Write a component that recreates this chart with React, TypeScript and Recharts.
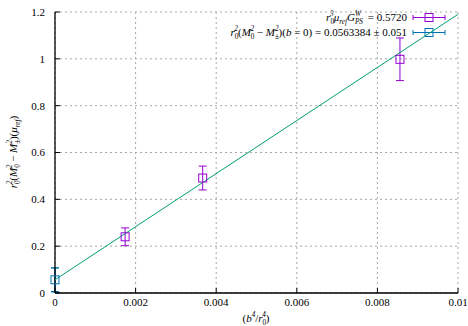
import React from 'react';
import { ComposedChart, Scatter, XAxis, YAxis, CartesianGrid, ErrorBar, Customized } from 'recharts';

const X_TICKS = [0, 0.002, 0.004, 0.006, 0.008, 0.01];
const Y_TICKS = [0, 0.2, 0.4, 0.6, 0.8, 1, 1.2];

// finite lattice spacing points (purple)
const latticeX = [0.00174, 0.003665, 0.00856];
const latticeY = [0.24, 0.491, 0.998];
const latticeErr = [0.038, 0.051, 0.091];

// continuum value at b = 0 (blue)
const contX = [0];
const contY = [0.0563384];
const contErr = [0.051];

// linear fit, end points
const fitX = [0, 0.01];
const fitY = [0.0563384, 1.19];

const PURPLE = '#9400d3';
const BLUE = '#0072b2';
const GREEN = '#009e73';
const FONT = '"Liberation Serif", "Times New Roman", serif';
const SIZE = 11;

const lattice = latticeX.map((x, i) => ({ x, y: latticeY[i], err: latticeErr[i] }));
const cont = contX.map((x, i) => ({ x, y: contY[i], err: contErr[i] }));
const fit = fitX.map((x, i) => ({ x, y: fitY[i] }));

type Piece = { t: string; it?: boolean; sub?: string; subIt?: boolean; sup?: string };
type Line = { pieces: Piece[]; x: number; y: number };

function renderLine(line: Line, li: number, size: number) {
  const small = size * 0.66;
  const out: React.ReactNode[] = [];
  let cur = 0;
  let padX = 0;
  line.pieces.forEach((p, i) => {
    const first = i === 0;
    out.push(
      <tspan
        key={`${li}-${i}m`}
        x={first ? line.x : undefined}
        y={first ? line.y : undefined}
        dx={first ? undefined : padX}
        dy={first ? undefined : -cur}
        fontStyle={p.it ? 'italic' : 'normal'}
        fontSize={size}
      >
        {p.t}
      </tspan>
    );
    cur = 0;
    padX = 0;
    const subW = p.sub ? p.sub.length * small * 0.55 : 0;
    if (p.sub) {
      const d = size * 0.3;
      out.push(
        <tspan key={`${li}-${i}b`} dy={d - cur} fontSize={small} fontStyle={p.subIt ? 'italic' : 'normal'}>
          {p.sub}
        </tspan>
      );
      cur = d;
    }
    if (p.sup) {
      const d = -size * 0.42;
      const supW = p.sup.length * small * 0.55;
      out.push(
        <tspan key={`${li}-${i}p`} dx={-subW} dy={d - cur} fontSize={small} fontStyle="italic">
          {p.sup}
        </tspan>
      );
      cur = d;
      padX = Math.max(0, subW - supW);
    }
  });
  return out;
}

function MathText({ lines, anchor = 'start', size = SIZE, transform }: {
  lines: Line[]; anchor?: string; size?: number; transform?: string;
}) {
  return (
    <text textAnchor={anchor} fontFamily={FONT} fill="#000" transform={transform}>
      {lines.map((l, li) => renderLine(l, li, size))}
    </text>
  );
}

const row1: Piece[] = [
  { t: 'r', it: true, sub: '0', sup: '3' },
  { t: 'μ', it: true, sub: 'ref', subIt: true },
  { t: 'G', it: true, sub: 'PS', subIt: true, sup: 'W' },
  { t: ' = 0.5720' },
];
const row2: Piece[] = [
  { t: 'r', it: true, sub: '0', sup: '2' },
  { t: '(' },
  { t: 'M', it: true, sub: '0', sup: '2' },
  { t: ' − ' },
  { t: 'M', it: true, sub: '±', sup: '2' },
  { t: ')(' },
  { t: 'b', it: true },
  { t: ' = 0) = 0.0563384 ± 0.051' },
];
const yLabel: Piece[] = [
  { t: 'r', it: true, sub: '0', sup: '2' },
  { t: '(' },
  { t: 'M', it: true, sub: '0', sup: '2' },
  { t: ' − ' },
  { t: 'M', it: true, sub: '±', sup: '2' },
  { t: ')(' },
  { t: 'μ', it: true, sub: 'ref', subIt: true },
  { t: ')' },
];
const xLabel: Piece[] = [
  { t: '(' },
  { t: 'b', it: true, sup: '4' },
  { t: '/' },
  { t: 'r', it: true, sub: '0', sup: '4' },
  { t: ')' },
];

function KeySample({ y, color }: { y: number; color: string }) {
  return (
    <g stroke={color} strokeWidth={1} fill="none">
      <line x1={413} x2={445} y1={y} y2={y} />
      <line x1={413} x2={413} y1={y - 2.5} y2={y + 2.5} />
      <line x1={445} x2={445} y1={y - 2.5} y2={y + 2.5} />
      <rect x={425} y={y - 4} width={8} height={8} />
    </g>
  );
}

function Overlay() {
  return (
    <g>
      <MathText
        anchor="end"
        lines={[
          { pieces: row1, x: 407, y: 20.5 },
          { pieces: row2, x: 407, y: 36 },
        ]}
      />
      <KeySample y={17.5} color={PURPLE} />
      <KeySample y={32.5} color={BLUE} />
      <MathText anchor="middle" lines={[{ pieces: xLabel, x: 256, y: 322 }]} />
      <MathText
        anchor="middle"
        lines={[{ pieces: yLabel, x: 0, y: 0 }]}
        transform="translate(17,152) rotate(-90)"
      />
    </g>
  );
}

const square = (color: string) => (p: any) => (
  <rect x={p.cx - 4} y={p.cy - 4} width={8} height={8} fill="none" stroke={color} strokeWidth={1} />
);

const tickStyle = { fontFamily: FONT, fontSize: SIZE, fill: '#000' };

export default function App() {
  return (
    <div style={{ position: 'absolute', left: 0, top: 0, width: 468, height: 326, background: '#fff' }}>
      <ComposedChart width={468} height={326} margin={{ top: 12, right: 10, bottom: 0, left: 0 }}>
        <CartesianGrid stroke="#a8a8a8" strokeDasharray="2 3" />
        <XAxis
          dataKey="x"
          type="number"
          domain={[0, 0.01]}
          ticks={X_TICKS}
          height={33}
          tickSize={-5}
          tickMargin={10}
          tick={tickStyle}
          tickFormatter={(v: number) => String(v)}
          axisLine={{ stroke: '#000', strokeWidth: 1.3 }}
          tickLine={{ stroke: '#000' }}
        />
        <XAxis
          xAxisId="top"
          orientation="top"
          type="number"
          domain={[0, 0.01]}
          ticks={X_TICKS}
          height={0}
          tickSize={-5}
          tickFormatter={() => ''}
          axisLine={{ stroke: '#000', strokeWidth: 1.3 }}
          tickLine={{ stroke: '#000' }}
        />
        <YAxis
          dataKey="y"
          type="number"
          domain={[0, 1.2]}
          ticks={Y_TICKS}
          width={55}
          tickSize={-5}
          tickMargin={15}
          tick={tickStyle}
          tickFormatter={(v: number) => String(v)}
          axisLine={{ stroke: '#000', strokeWidth: 1.3 }}
          tickLine={{ stroke: '#000' }}
        />
        <YAxis
          yAxisId="right"
          orientation="right"
          type="number"
          domain={[0, 1.2]}
          ticks={Y_TICKS}
          width={0}
          tickSize={-5}
          tickFormatter={() => ''}
          axisLine={{ stroke: '#000', strokeWidth: 1.3 }}
          tickLine={{ stroke: '#000' }}
        />
        <Scatter
          data={fit}
          line={{ stroke: GREEN, strokeWidth: 1 }}
          shape={() => <g />}
          isAnimationActive={false}
        />
        <Scatter data={lattice} shape={square(PURPLE)} isAnimationActive={false}>
          <ErrorBar dataKey="err" direction="y" width={4} stroke={PURPLE} strokeWidth={1} isAnimationActive={false} />
        </Scatter>
        <Scatter data={cont} shape={square(BLUE)} isAnimationActive={false}>
          <ErrorBar dataKey="err" direction="y" width={4} stroke={BLUE} strokeWidth={1.5} isAnimationActive={false} />
        </Scatter>
        <Customized component={Overlay} />
      </ComposedChart>
    </div>
  );
}
